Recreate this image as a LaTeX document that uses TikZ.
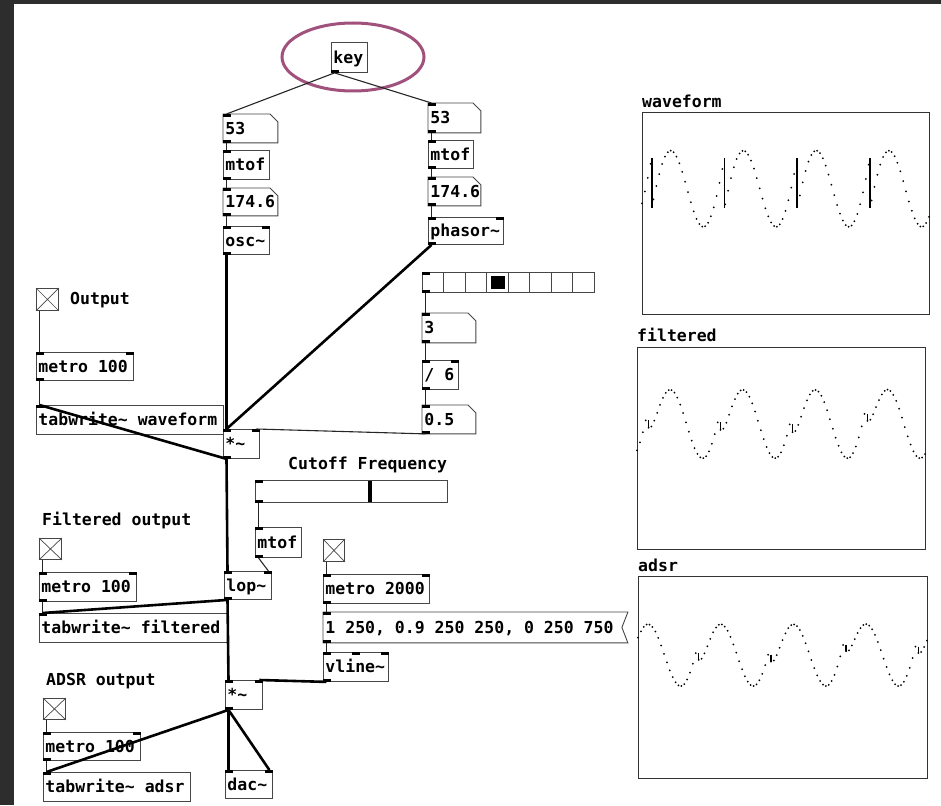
\documentclass[tikz,border=0pt]{standalone}
\usepackage{fontspec}
\newfontfamily\pdfont{DejaVu Sans Mono}
\usetikzlibrary{calc,shapes.geometric}
\definecolor{framec}{RGB}{45,45,45}
\definecolor{boxc}{RGB}{70,70,70}
\definecolor{keyc}{RGB}{160,82,124}
\newcommand\pdtext{\pdfont\bfseries\fontsize{16.5}{18}\selectfont}
\tikzset{
  pdbox/.style={draw=boxc, line width=0.9pt, anchor=north west, inner xsep=2pt, inner ysep=0pt, font=\pdtext, text height=13pt, text depth=1pt},
  bare/.style={pdbox, draw=none},
  lbl/.style={anchor=west, inner sep=0pt, font=\pdtext},
  ctl/.style={line width=1.1pt, draw=black!85},
  sig/.style={line width=2.6pt, draw=black},
  port/.style={fill=black},
  edgeline/.style={draw=boxc, line width=0.9pt},
  arrbox/.style={draw=black!80, line width=1.2pt, anchor=north west, inner sep=0pt},
  tgl/.style={pdbox, inner sep=0pt},
}
% name, x, y, w, h, text
\newcommand\pdo[7][pdbox]{\node[#1, minimum height=#6pt] (#2) at (#3,#4) {\makebox[\dimexpr#5pt-4pt\relax][l]{#7}};}
\newcommand\pin[1]{\fill[port] (#1.north west) rectangle ++(8,3);}
\newcommand\pinr[1]{\fill[port] (#1.north east) rectangle ++(-8,3);}
\newcommand\pout[1]{\fill[port] (#1.south west) rectangle ++(8,-3);}
\newcommand\numshape[1]{\draw[edgeline] (#1.north west) -- ($(#1.north east)+(-8,0)$) -- ($(#1.north east)+(0,8)$) -- (#1.south east) -- (#1.south west) -- cycle;}
\newcommand\co[2]{\draw[ctl] ($(#1.south west)+(3.5,0)$) -- ($(#2.north west)+(3.5,0)$);}
\newcommand\cor[2]{\draw[ctl] ($(#1.south west)+(3.5,0)$) -- ($(#2.north east)+(-3.5,0)$);}
\newcommand\so[2]{\draw[sig] ($(#1.south west)+(3.5,0)$) -- ($(#2.north west)+(3.5,0)$);}
\newcommand\sor[2]{\draw[sig] ($(#1.south west)+(3.5,0)$) -- ($(#2.north east)+(-3.5,0)$);}
\newcommand\tglX[1]{\draw[edgeline, line width=0.7pt] (#1.north west) -- (#1.south east) (#1.north east) -- (#1.south west);}
% xl, xr, ymid, K, period, jumpx, alpha, N, warm
\newcommand\arrplot[9]{%
  \pgfmathsetmacro\aD{(#2-#1)/#8}%
  \pgfmathsetmacro\aJT{#3-#4*(cos(360*0.765)+0.5)}%
  \pgfmathsetmacro\aJB{#3-#4*(cos(360*0.765)-0.5)}%
  \xdef\aS{0.5}\xdef\aPY{#3}\xdef\aPP{0}%
  \foreach \i in {-#9,...,#8}{%
    \pgfmathsetmacro\aX{#1+(\i)*\aD}%
    \pgfmathsetmacro\aT{(\aX-#6)/#5}%
    \pgfmathsetmacro\aP{\aT-floor(\aT)}%
    \pgfmathsetmacro\aV{cos(360*(\aP-0.235))+\aP}%
    \pgfmathsetmacro\aF{\aS+#7*(\aV-\aS)}%
    \xdef\aS{\aF}%
    \pgfmathsetmacro\aY{#3-#4*(\aF-0.5)}%
    \ifnum\i>-1
      \fill (\aX,\aY) circle (1pt);
      \pgfmathtruncatemacro\aB{\aP<\aPP}%
      \ifnum\aB=1
        \ifdim #7pt=1pt
          \pgfmathsetmacro\aJX{\aX-\aP*#5}%
          \draw[line width=1.6pt] (\aJX,\aJT) -- (\aJX,\aJB);
        \else
          \draw[line width=1.3pt] (\aX,\aPY) -- (\aX,\aY);
        \fi
      \fi
    \fi
    \xdef\aPY{\aY}\xdef\aPP{\aP}%
  }%
}
\begin{document}
\begin{tikzpicture}[x=1pt,y=-1pt]
\useasboundingbox (0,0) rectangle (941,805);
\fill[white] (0,0) rectangle (941,805);
\fill[framec] (0,0) rectangle (941,4);
\fill[framec] (0,0) rectangle (14,805);

% highlight
\node[ellipse, draw=keyc, line width=3pt, minimum width=142pt, minimum height=68pt, inner sep=0pt] (hl) at (353,57) {};

% objects
\pdo{key}{331}{42}{36}{30}{key}
\pdo[bare]{n53a}{223}{114}{54}{28}{53}
\pdo{mtofa}{223}{150}{46}{29}{mtof}
\pdo[bare]{n174a}{223}{188}{54}{27}{174.6}
\pdo{osc}{223}{226}{46}{28}{osc\textasciitilde}
\pdo[bare]{n53b}{428}{103}{52}{29}{53}
\pdo{mtofb}{428}{140}{45}{28}{mtof}
\pdo[bare]{n174b}{428}{177}{52}{28}{174.6}
\pdo{phasor}{428}{217}{75}{27}{phasor\textasciitilde}
\pdo{hr}{422}{272}{172}{20}{}
\pdo[bare]{n3}{422}{313}{53}{29}{3}
\pdo{div6}{422}{360}{36}{29}{/ 6}
\pdo[bare]{n05}{422}{405}{53}{28}{0.5}
\node[tgl, minimum width=22pt, minimum height=22pt] (tgO) at (36,288) {};
\node[lbl] (lblOut) at (70,300) {Output};
\pdo{metroA}{36}{352}{97}{28}{metro 100}
\pdo{tabW}{36}{405}{187}{29}{tabwrite\textasciitilde\ waveform}
\pdo{mul1}{223}{429}{36}{29}{*\textasciitilde}
\node[lbl] (lblCut) at (288,465) {Cutoff Frequency};
\pdo{hs}{255}{480}{192}{22}{}
\pdo{mtofc}{255}{527}{46}{30}{mtof}
\pdo{lop}{224}{571}{47}{28}{lop\textasciitilde}
\node[tgl, minimum width=21pt, minimum height=22pt] (tg2) at (323,539) {};
\pdo{metro2}{323}{574}{106}{29}{metro 2000}
\pdo[bare]{msg}{323}{612}{304}{30}{1 250, 0.9 250 250, 0 250 750}
\pdo{vline}{323}{652}{65}{29}{vline\textasciitilde}
\pdo{mul2}{225}{680}{37}{29}{*\textasciitilde}
\node[lbl] (lblF) at (42,521) {Filtered output};
\node[tgl, minimum width=22pt, minimum height=21pt] (tgF) at (39,538) {};
\pdo{metroF}{39}{572}{97}{29}{metro 100}
\pdo{tabF}{39}{613}{188}{29}{tabwrite\textasciitilde\ filtered}
\node[lbl] (lblA) at (46,681) {ADSR output};
\node[tgl, minimum width=22pt, minimum height=21pt] (tgA) at (43,698) {};
\pdo{metroAd}{43}{732}{97}{28}{metro 100}
\pdo{tabA}{43}{772}{147}{29}{tabwrite\textasciitilde\ adsr}
\pdo{dac}{225}{770}{47}{28}{dac\textasciitilde}

% special shapes
\numshape{n53a}\numshape{n174a}\numshape{n53b}\numshape{n174b}\numshape{n3}\numshape{n05}
\draw[edgeline] (msg.north west) -- (msg.north east) -- ($(msg.east)+(-6,0)$) -- (msg.south east) -- (msg.south west) -- cycle;
\tglX{tgO}\tglX{tg2}\tglX{tgF}\tglX{tgA}
\foreach \k in {1,...,7}{\draw[edgeline] ($(hr.north west)+(21.5*\k,0)$) -- ($(hr.south west)+(21.5*\k,0)$);}
\fill[black] ($(hr.north west)+(68.5,4)$) rectangle ++(14,13);
\draw[line width=3.5pt] ($(hs.north west)+(115,1)$) -- ($(hs.south west)+(115,-1)$);

% ports
\pout{key}
\foreach \n in {n53a,mtofa,n174a,n53b,mtofb,n174b,n3,n05,msg,mtofc,hr,hs}{\pin{\n}\pout{\n}}
\foreach \n in {osc,phasor,div6,metroA,mul1,lop,metro2,mul2,metroF,metroAd}{\pin{\n}\pinr{\n}\pout{\n}}
\foreach \n in {tabW,tabF,tabA}{\pin{\n}}
\pin{vline}\pinr{vline}\pout{vline}\fill[port] ($(vline.north)+(-4,0)$) rectangle ++(8,3);
\pin{dac}\pinr{dac}

% arrays
\node[lbl] (lblWv) at (642,101) {waveform};
\node[arrbox, minimum width=287pt, minimum height=202pt] (arrW) at (642,112) {};
\node[lbl] (lblFl) at (637,335) {filtered};
\node[arrbox, minimum width=288pt, minimum height=202pt] (arrF) at (637,347) {};
\node[lbl] (lblAd) at (638,565) {adsr};
\node[arrbox, minimum width=289pt, minimum height=202pt] (arrA) at (638,576) {};
\arrplot{642}{929}{188}{49.9}{72.77}{651.7}{1}{100}{5}
\arrplot{637}{925}{423.3}{51}{72.47}{647.5}{0.4}{100}{60}
\arrplot{638}{927}{654.5}{46}{72.67}{698}{0.4}{100}{60}

% control connections
\co{key}{n53a}
\co{key}{n53b}
\co{n53a}{mtofa}\co{mtofa}{n174a}\co{n174a}{osc}
\co{n53b}{mtofb}\co{mtofb}{n174b}\co{n174b}{phasor}
\co{hr}{n3}\co{n3}{div6}\co{div6}{n05}
\cor{n05}{mul1}
\co{tgO}{metroA}\co{metroA}{tabW}
\co{hs}{mtofc}\cor{mtofc}{lop}
\co{tg2}{metro2}\co{metro2}{msg}\co{msg}{vline}
\co{tgF}{metroF}\co{metroF}{tabF}
\co{tgA}{metroAd}\co{metroAd}{tabA}

% signal connections
\so{osc}{mul1}
\so{phasor}{mul1}
\so{mul1}{tabW}
\so{mul1}{lop}
\so{lop}{tabF}
\so{lop}{mul2}
\sor{vline}{mul2}
\so{mul2}{dac}
\sor{mul2}{dac}
\so{mul2}{tabA}
\end{tikzpicture}
\end{document}
